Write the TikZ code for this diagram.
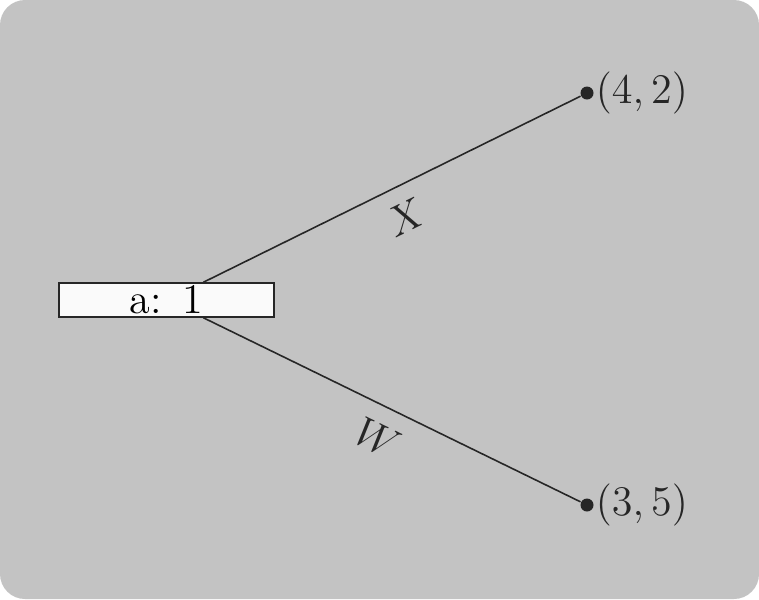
\documentclass[tikz,border=0pt]{standalone}
\usepackage{amsmath,amssymb}
\usepackage{xcolor}
\usetikzlibrary{positioning,calc}

\definecolor{bggray}{RGB}{195,195,195}
\definecolor{inkgray}{RGB}{38,38,38}
\definecolor{boxwhite}{RGB}{250,250,250}

\begin{document}
\begin{tikzpicture}[
    font=\large,
    entry/.style={rectangle, draw=inkgray, fill=boxwhite, minimum width=2.15cm, minimum height=0.34cm, inner sep=0pt},
    leaf/.style={circle, fill=inkgray, inner sep=0pt, minimum size=0.13cm},
    edge/.style={draw=inkgray, line width=0.45pt},
    lab/.style={text=inkgray, sloped, below=1.3pt}
]
    % Background
    \fill[bggray, rounded corners=0.25cm] (0,0) rectangle (7.59,5.99);
    \useasboundingbox (0,0) rectangle (7.59,5.99);

    % Root entry
    \node[entry] (root) at (1.665,2.99) {a:\enspace 1};
    \coordinate (rtop) at ($(root.north west)!0.67!(root.north east)$);
    \coordinate (rbot) at ($(root.south west)!0.67!(root.south east)$);

    % Leaves
    \node[leaf, label={[inner sep=0.3pt, text=inkgray]right:$(4,2)$}] (p1) at (5.87,5.06) {};
    \node[leaf, label={[inner sep=0.3pt, text=inkgray]right:$(3,5)$}] (p2) at (5.87,0.94) {};

    % Edges
    \draw[edge] (rtop) -- (p1) node[lab, midway] {$X$};
    \draw[edge] (rbot) -- (p2) node[lab, midway] {$W$};
\end{tikzpicture}
\end{document}
